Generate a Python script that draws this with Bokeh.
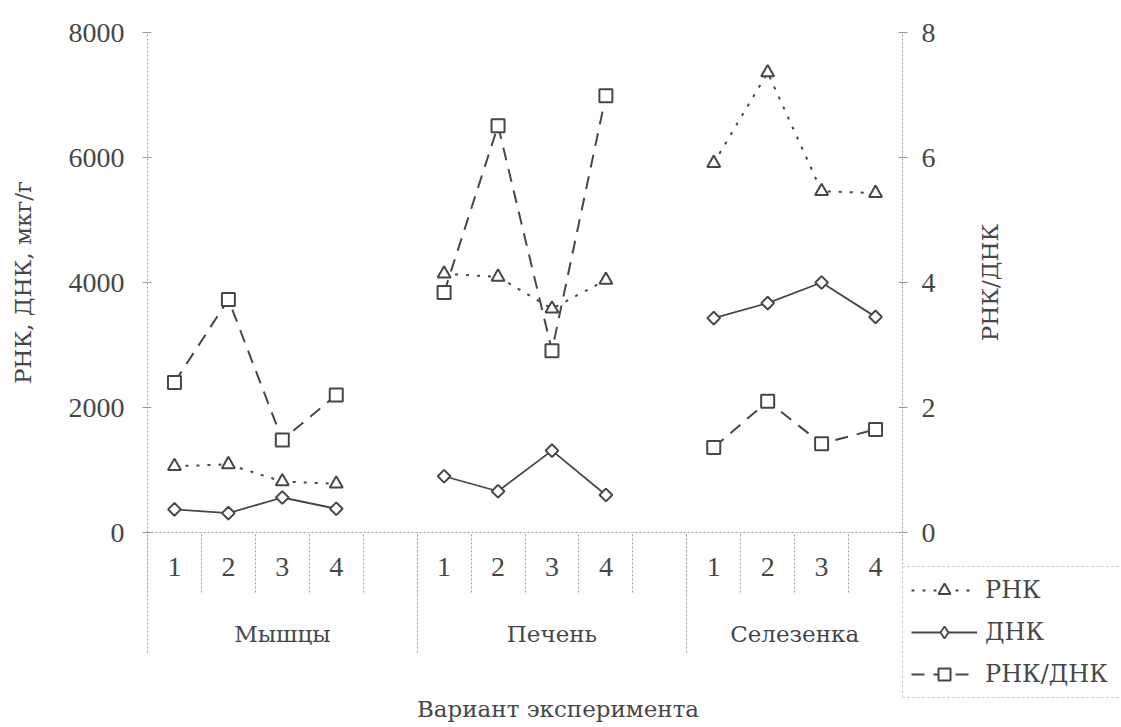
import math
from bokeh.plotting import figure
from bokeh.models import Range1d, LinearAxis, FixedTicker, Legend, LegendItem, Label
from bokeh.embed import file_html
from bokeh.resources import INLINE

# ---------------- data ----------------
groups = ["Мышцы", "Печень", "Селезенка"]
variants = ["1", "2", "3", "4"]

rna_muscle = [1060, 1090, 815, 780]
rna_liver = [4140, 4090, 3580, 4040]
rna_spleen = [5910, 7360, 5460, 5430]

dna_muscle = [370, 310, 560, 380]
dna_liver = [900, 660, 1310, 600]
dna_spleen = [3430, 3670, 4000, 3450]

ratio_muscle = [2.40, 3.73, 1.48, 2.20]
ratio_liver = [3.84, 6.51, 2.91, 6.99]
ratio_spleen = [1.36, 2.10, 1.42, 1.65]

left_ticks = [0, 2000, 4000, 6000, 8000]
right_ticks = [0, 2, 4, 6, 8]

series_names = ["РНК", "ДНК", "РНК/ДНК"]
x_title = "Вариант эксперимента"
y_title_left = "РНК, ДНК, мкг/г"
y_title_right = "РНК/ДНК"

# ---------------- layout constants (pixels) ----------------
W, H = 1120, 726
AXIS_LEFT_X = 147           # where the left value axis stands
AXIS_RIGHT_X = 902          # where the right value axis stands
TOP_Y = 32                  # pixel row of the top tick (8000 / 8)
BASE_Y = 532                # pixel row of the zero line

SLOTS_PER_GROUP = len(variants) + 1          # one blank slot between groups
n_slots = SLOTS_PER_GROUP * len(groups) - 1  # no blank slot after the last group

slot_px = (AXIS_RIGHT_X - AXIS_LEFT_X) / n_slots
x_start = -AXIS_LEFT_X / slot_px
x_end = (W - AXIS_LEFT_X) / slot_px
px_per_val = (BASE_Y - TOP_Y) / left_ticks[-1]
y_start = -(H - BASE_Y) / px_per_val
y_end = left_ticks[-1] + TOP_Y / px_per_val
ratio_scale = right_ticks[-1] / left_ticks[-1]


def slot_x(g, i):
    return g * SLOTS_PER_GROUP + i + 0.5


def build(parts):
    xs, ys = [], []
    for g, vals in enumerate(parts):
        if g:
            xs.append(float("nan"))
            ys.append(float("nan"))
        for i, v in enumerate(vals):
            xs.append(slot_x(g, i))
            ys.append(v)
    return xs, ys


rna_x, rna_y = build([rna_muscle, rna_liver, rna_spleen])
dna_x, dna_y = build([dna_muscle, dna_liver, dna_spleen])
rat_x, rat_y = build([ratio_muscle, ratio_liver, ratio_spleen])

INK = "#474747"
GRID = "#9a9a9a"
NUM_FONT = "Liberation Serif"
NUM_FS = "28px"
TXT_FONT = "DejaVu Serif"
TXT_FS = "23px"

p = figure(width=W, height=H,
           x_range=Range1d(x_start, x_end), y_range=Range1d(y_start, y_end),
           x_axis_type=None, y_axis_type=None,
           output_backend="svg", toolbar_location=None,
           min_border_left=0, min_border_right=0,
           min_border_top=0, min_border_bottom=0)
p.outline_line_color = None
p.background_fill_color = "white"
p.border_fill_color = "white"
p.extra_y_ranges = {"ratio": Range1d(y_start * ratio_scale, y_end * ratio_scale)}


def style_axis(ax, font=NUM_FONT, size=NUM_FS):
    ax.axis_line_color = GRID
    ax.axis_line_width = 1
    ax.axis_line_dash = "2 2"
    ax.major_tick_line_color = GRID
    ax.minor_tick_line_color = GRID
    ax.minor_tick_line_dash = "2 2"
    ax.major_label_text_font = font
    ax.major_label_text_font_size = size
    ax.major_label_text_color = INK


# left axis, standing at the start of the first slot
yl = LinearAxis(ticker=FixedTicker(ticks=left_ticks),
                bounds=(left_ticks[0], left_ticks[-1]), fixed_location=0)
style_axis(yl)
yl.major_tick_in = 4
yl.major_tick_out = 5
yl.major_label_standoff = 18
p.add_layout(yl, "left")

p.add_layout(Label(x=0, y=(left_ticks[0] + left_ticks[-1]) / 2, x_offset=-125,
                   angle=math.pi / 2, text=y_title_left,
                   text_align="center", text_baseline="middle",
                   text_font=TXT_FONT, text_font_size=TXT_FS, text_color=INK))

# right axis, standing at the end of the last slot
yr = LinearAxis(y_range_name="ratio", ticker=FixedTicker(ticks=right_ticks),
                bounds=(right_ticks[0], right_ticks[-1]), fixed_location=n_slots)
style_axis(yr)
yr.major_tick_in = 4
yr.major_tick_out = 5
yr.major_label_standoff = 14
p.add_layout(yr, "right")

p.add_layout(Label(x=n_slots, y=(right_ticks[0] + right_ticks[-1]) / 2, y_range_name="ratio",
                   x_offset=87, angle=math.pi / 2, text=y_title_right,
                   text_align="center", text_baseline="middle",
                   text_font=TXT_FONT, text_font_size=TXT_FS, text_color=INK))

# bottom axis 1: variant numbers, separators between every slot
centers = [slot_x(g, i) for g in range(len(groups)) for i in range(len(variants))]
bounds = list(range(n_slots + 1))
xa = LinearAxis(ticker=FixedTicker(ticks=centers, minor_ticks=bounds),
                bounds=(0, n_slots), fixed_location=0)
style_axis(xa)
xa.major_label_overrides = {c: variants[k % len(variants)] for k, c in enumerate(centers)}
xa.major_tick_in = 0
xa.major_tick_out = 0
xa.minor_tick_in = 0
xa.minor_tick_out = 60
xa.major_label_standoff = -35
p.add_layout(xa, "below")

# bottom axis 2: group names, separators between groups
g_bounds = [g * SLOTS_PER_GROUP for g in range(len(groups))]
g_ends = g_bounds[1:] + [n_slots]
g_centers = [(a + b) / 2 for a, b in zip(g_bounds, g_ends)]
xg = LinearAxis(ticker=FixedTicker(ticks=g_centers, minor_ticks=g_bounds),
                bounds=(0, n_slots), fixed_location=0)
style_axis(xg, font=TXT_FONT, size=TXT_FS)
xg.axis_line_color = None
xg.major_label_overrides = {c: groups[k] for k, c in enumerate(g_centers)}
xg.major_tick_in = 0
xg.major_tick_out = 0
xg.minor_tick_in = 0
xg.minor_tick_out = 120
xg.major_label_standoff = -32
p.add_layout(xg, "below")

p.add_layout(Label(x=n_slots / 2, y=0, x_offset=33, y_offset=-176, text=x_title,
                   text_align="center", text_baseline="middle",
                   text_font=TXT_FONT, text_font_size=TXT_FS, text_color=INK))

# ---------------- series ----------------
rna_line = p.line(rna_x, rna_y, line_color=INK, line_width=2, line_dash="3 8")
dna_line = p.line(dna_x, dna_y, line_color=INK, line_width=1.8)
rat_line = p.line(rat_x, rat_y, line_color=INK, line_width=2, line_dash="13 9", y_range_name="ratio")

rna_pts = p.scatter(rna_x, rna_y, marker="triangle", size=13, line_color=INK, line_width=2, fill_color="white")
dna_pts = p.scatter(dna_x, dna_y, marker="square", angle=math.pi / 4, size=9, line_color=INK,
                    line_width=2, fill_color="white")
rat_pts = p.scatter(rat_x, rat_y, marker="square", size=13, line_color=INK, line_width=2,
                    fill_color="white", y_range_name="ratio")
# legend swatch for the diamond marker (legend swatches ignore marker rotation)
dna_key = p.scatter([float("nan")], [float("nan")], marker="diamond", size=13, line_color=INK,
                    line_width=1.8, fill_color="white")

legend = Legend(items=[LegendItem(label=series_names[0], renderers=[rna_line, rna_pts]),
                       LegendItem(label=series_names[1], renderers=[dna_line, dna_key]),
                       LegendItem(label=series_names[2], renderers=[rat_line, rat_pts])],
                location=(AXIS_RIGHT_X, H - 698), orientation="vertical",
                border_line_color=GRID, border_line_dash="2 2", border_line_width=1,
                background_fill_color="white", background_fill_alpha=1,
                label_text_font=TXT_FONT, label_text_font_size="24px", label_text_color=INK,
                glyph_width=66, glyph_height=30, label_height=30, label_width=150,
                label_standoff=8, spacing=12, padding=8, margin=0)
p.add_layout(legend)

open("out.html", "w").write(file_html(p, INLINE))
